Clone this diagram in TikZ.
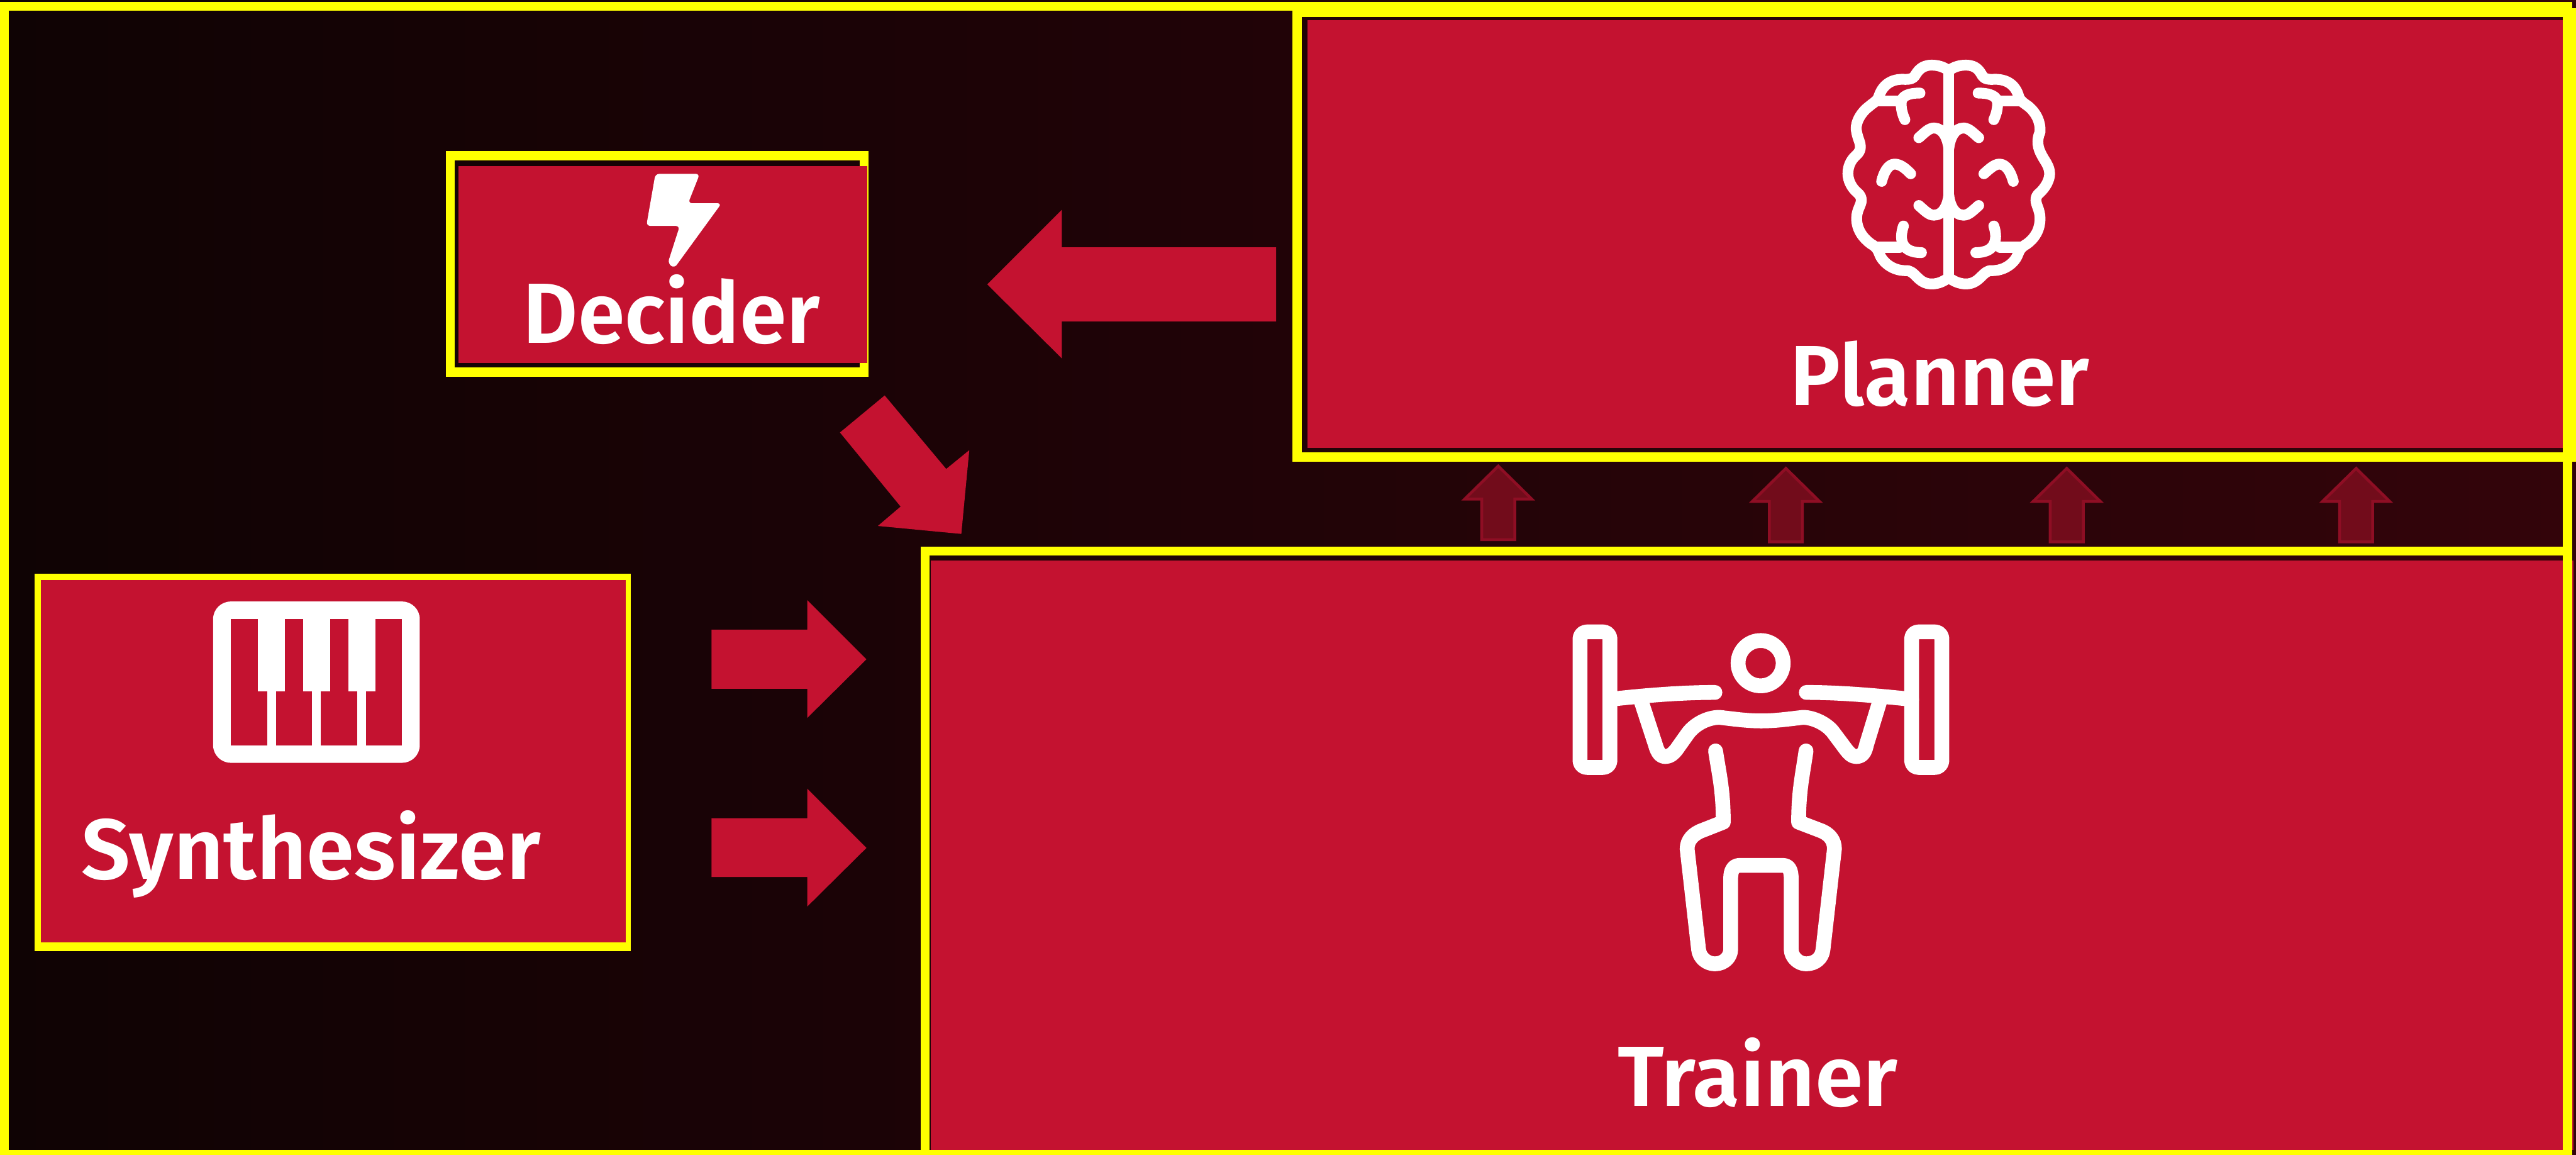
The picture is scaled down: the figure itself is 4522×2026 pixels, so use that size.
\documentclass[tikz,border=0pt]{standalone}
\usepackage{fontspec}
\usepackage{graphicx}
\setmainfont{Fira Sans}[BoldFont={Fira Sans SemiBold}]
\definecolor{brick}{HTML}{C41230}
\definecolor{brightyellow}{HTML}{FFFF00}
\definecolor{bgleft}{HTML}{0F0304}
\definecolor{bgright}{HTML}{33040A}
\definecolor{faintfill}{HTML}{720C1B}
\definecolor{faintline}{HTML}{8E0E24}
\tikzset{
  framebox/.style={draw=brightyellow,line width=16pt,fill=none,rectangle,inner sep=0pt,outer sep=0pt,anchor=center},
  redbox/.style={fill=brick,rectangle,inner sep=0pt,outer sep=0pt,anchor=center},
  bigarrow/.style={fill=brick},
  faintarrow/.style={fill=faintfill,draw=faintline,line width=5pt,miter limit=10},
  boxlabel/.style={text=white,inner sep=0pt,outer sep=0pt,anchor=base,font=\fontsize{150}{160}\selectfont\bfseries},
  iconthin/.style={draw=white,line width=19pt,line cap=round,line join=round},
  iconthick/.style={draw=white,line width=26pt,line cap=round,line join=round},
}
\newcommand\rectnode[6]{\node[#2,minimum width={(#5-#3)*1pt},minimum height={(#6-#4)*1pt}] (#1) at ({(#3+#5)/2},{(#4+#6)/2}) {};}
\newcommand\faintup[2]{\draw[faintarrow] (#1,#2+5) -- (#1+59,#2+63) -- (#1+29,#2+63) -- (#1+29,#2+134) -- (#1-29,#2+134) -- (#1-29,#2+63) -- (#1-59,#2+63) -- cycle;}
\begin{document}
\begin{tikzpicture}[x=1pt,y=-1pt]
\useasboundingbox (0,0) rectangle (4522,2026);
\clip (0,0) rectangle (4522,2026);
\shade[left color=bgleft,right color=bgright] (0,0) rectangle (4522,2026);

% frames
\rectnode{plannerframe}{framebox}{2277}{22}{4514}{802}
\rectnode{trainerframe}{framebox}{1624}{967}{4507}{2026}
\rectnode{deciderframe}{framebox}{790.5}{273}{1517}{653}
\rectnode{synthframe}{framebox}{69}{1014.5}{1099}{1661.5}
% fills
\rectnode{planner}{redbox}{2295}{35}{4499}{786}
\rectnode{trainer}{redbox}{1634}{984}{4518}{2018}
\rectnode{decider}{redbox}{805}{292}{1522}{637}
\rectnode{synth}{redbox}{72}{1018}{1098}{1654}
% outer frame
\rectnode{outerframe}{framebox}{7.5}{11}{4507}{2026}

% labels
\node[boxlabel] (deciderlabel) at (1179,602) {\resizebox{522pt}{\height}{Decider}};
\node[boxlabel] (synthlabel) at (546,1543) {\resizebox{807pt}{\height}{Synthesizer}};
\node[boxlabel] (plannerlabel) at (3405,712) {\resizebox{525pt}{\height}{Planner}};
\node[boxlabel] (trainerlabel) at (3085,1941) {\resizebox{491pt}{\height}{Trainer}};

% block arrows
\fill[bigarrow] (1249,1105) -- (1417,1105) -- (1417,1053) -- (1521,1157) -- (1417,1260) -- (1417,1208.6) -- (1249,1208.6) -- cycle;
\fill[bigarrow] (1249,1436) -- (1417,1436) -- (1417,1384) -- (1521,1488) -- (1417,1591) -- (1417,1539) -- (1249,1539) -- cycle;
\fill[bigarrow] (2240,434) -- (1864,434) -- (1864,368) -- (1733,499) -- (1864,629) -- (1864,564) -- (2240,564) -- cycle;
\fill[bigarrow] (1553,694) -- (1661,823) -- (1701.5,790) -- (1687.5,937) -- (1541,923) -- (1581,889) -- (1474.5,759) -- cycle;

% faint arrows
\faintup{2630}{813}
\faintup{3135}{817}
\faintup{3628}{817}
\faintup{4136}{817}

% bolt icon
\begin{scope}[shift={(750,240)},x=0.6378pt,y=-0.4785pt]
\fill[white,rounded corners=7pt] (628,136) -- (750,136) -- (718,244) -- (810,244) -- (680,482) -- (662,464) -- (695,327) -- (603,327) -- cycle;
\end{scope}

% piano icon
\begin{scope}[shift={(40,990)},x=0.7018pt,y=-0.4464pt]
\fill[white,rounded corners=31pt] (476,147) rectangle (993,781);
\fill[brick] (521,217) rectangle (948,712);
\foreach \k in {588,701,814} \fill[white] (\k,217) rectangle (\k+68,499);
\foreach \k in {611,724,837} \fill[white] (\k,499) rectangle (\k+22,712);
\end{scope}

% brain icon
\begin{scope}[shift={(3100,50)},x=0.5102pt,y=-0.3333pt]
\draw[iconthin] (629,225) -- (629,1315);
\draw[iconthin] (629,222) .. controls (610,200) and (590,193) .. (570,193)
 .. controls (535,193) and (522,225) .. (512,250)
 .. controls (505,265) and (495,268) .. (480,268)
 .. controls (430,262) and (400,300) .. (388,360)
 .. controls (382,385) and (365,395) .. (355,410)
 .. controls (320,450) and (305,510) .. (312,545)
 .. controls (316,580) and (325,600) .. (325,622)
 .. controls (325,640) and (320,655) .. (310,668)
 .. controls (290,695) and (282,730) .. (282,765)
 .. controls (282,800) and (295,840) .. (315,865)
 .. controls (325,878) and (328,890) .. (328,905)
 .. controls (328,930) and (312,955) .. (312,1000)
 .. controls (312,1060) and (335,1105) .. (362,1135)
 .. controls (380,1150) and (385,1165) .. (390,1185)
 .. controls (400,1230) and (435,1275) .. (480,1275)
 .. controls (515,1270) and (520,1345) .. (570,1345)
 .. controls (595,1345) and (612,1330) .. (629,1312);
\draw[iconthin] (629,222) .. controls (648,200) and (668,193) .. (688,193)
 .. controls (725,193) and (735,225) .. (745,250)
 .. controls (752,265) and (762,268) .. (778,268)
 .. controls (830,262) and (860,300) .. (870,360)
 .. controls (876,385) and (890,395) .. (903,410)
 .. controls (930,445) and (945,490) .. (943,545)
 .. controls (930,590) and (935,630) .. (950,670)
 .. controls (960,700) and (976,725) .. (976,765)
 .. controls (976,800) and (960,840) .. (942,865)
 .. controls (930,880) and (929,890) .. (929,905)
 .. controls (929,930) and (943,955) .. (943,1000)
 .. controls (943,1060) and (925,1105) .. (897,1135)
 .. controls (880,1150) and (872,1165) .. (868,1185)
 .. controls (858,1230) and (825,1275) .. (778,1275)
 .. controls (745,1270) and (738,1345) .. (688,1345)
 .. controls (665,1345) and (645,1330) .. (629,1312);
% upper curls
\draw[iconthin] (385,382) -- (460,382);
\draw[iconthin] (530,340) .. controls (490,340) and (465,355) .. (465,395) .. controls (465,430) and (472,460) .. (478,480);
\draw[iconthin] (805,382) -- (875,382);
\draw[iconthin] (730,340) .. controls (770,340) and (797,355) .. (797,395) .. controls (797,430) and (790,460) .. (784,480);
% central arches
\draw[iconthin] (526,575) .. controls (545,550) and (560,524) .. (578,524) .. controls (610,524) and (625,580) .. (629,630);
\draw[iconthin] (732,575) .. controls (713,550) and (698,524) .. (680,524) .. controls (648,524) and (633,580) .. (629,630);
\draw[iconthin] (526,932) .. controls (545,957) and (560,983) .. (578,983) .. controls (610,983) and (625,930) .. (629,880);
\draw[iconthin] (732,932) .. controls (713,957) and (698,983) .. (680,983) .. controls (648,983) and (633,930) .. (629,880);
% side curves
\draw[iconthin] (398,805) .. controls (405,760) and (420,714) .. (443,714) .. controls (465,714) and (485,745) .. (498,765);
\draw[iconthin] (851,805) .. controls (843,760) and (828,714) .. (803,714) .. controls (785,714) and (765,745) .. (750,765);
% lower curls
\draw[iconthin] (473,1040) .. controls (462,1090) and (455,1180) .. (535,1180);
\draw[iconthin] (385,1152) -- (460,1152);
\draw[iconthin] (784,1040) .. controls (795,1090) and (800,1180) .. (722,1180);
\draw[iconthin] (805,1152) -- (875,1152);
\end{scope}

% lifter icon
\begin{scope}[shift={(2650,1050)},x=0.5420pt,y=-0.4464pt]
\draw[iconthick,rounded corners=12pt] (228,132) rectangle (325,665);
\draw[iconthick,rounded corners=12pt] (1302,132) rectangle (1400,665);
\draw[iconthick] (813,255) circle[x radius=73,y radius=89];
\draw[iconthick] (325,397) .. controls (430,383) and (550,370) .. (665,370);
\draw[iconthick] (1302,397) .. controls (1190,383) and (1075,370) .. (961,370);
\draw[iconthick] (425,400) -- (472,575) .. controls (480,610) and (490,622) .. (505,622) .. controls (520,622) and (530,610) .. (540,595) -- (578,530) .. controls (600,495) and (640,468) .. (680,468) .. controls (730,475) and (770,482) .. (815,482) .. controls (860,482) and (900,475) .. (950,468) .. controls (985,468) and (1030,495) .. (1050,530) -- (1090,595) .. controls (1100,610) and (1108,622) .. (1122,622) .. controls (1140,622) and (1150,610) .. (1156,575) -- (1200,400);
\draw[iconthick] (667,600) .. controls (680,700) and (692,760) .. (692,880) -- (625,912) .. controls (595,925) and (575,950) .. (575,985) -- (612,1380) .. controls (615,1415) and (640,1437) .. (665,1437) .. controls (695,1437) and (716,1410) .. (716,1380) -- (716,1100) .. controls (716,1070) and (725,1050) .. (745,1050) -- (885,1050) .. controls (905,1050) and (912,1070) .. (912,1100) -- (912,1380) .. controls (912,1410) and (935,1437) .. (960,1437) .. controls (990,1437) and (1012,1415) .. (1015,1380) -- (1052,985) .. controls (1052,950) and (1035,925) .. (1005,912) -- (936,880) .. controls (936,760) and (948,700) .. (960,600);
\end{scope}
\end{tikzpicture}
\end{document}
